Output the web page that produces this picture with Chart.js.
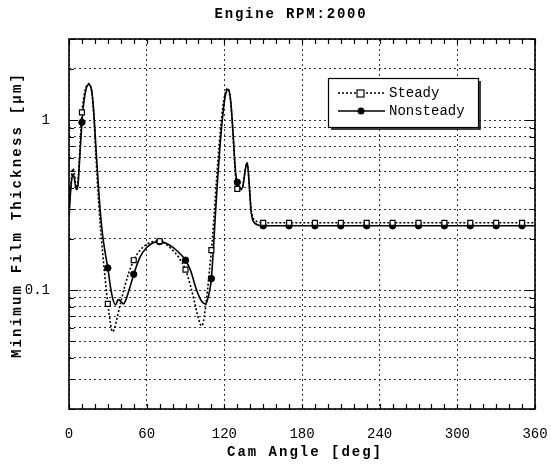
<!DOCTYPE html>
<html>
<head>
<meta charset="utf-8">
<script src="https://cdn.jsdelivr.net/npm/chart.js@4.4.0/dist/chart.umd.min.js"></script>
<style>
  html, body { margin: 0; padding: 0; background: #fff; }
  canvas { display: block; }
</style>
</head>
<body>
<canvas id="c" width="551" height="468"></canvas>
<script>
// Labels
const chartTitle = 'Engine RPM:2000';
const xTitle = 'Cam Angle [deg]';
const yTitle = 'Minimum Film Thickness [\u03bcm]';
const seriesNames = ['Steady', 'Nonsteady'];

// Axis ticks / grid values
const xTickValues = [0, 60, 120, 180, 240, 300, 360];
const yGridValues = [0.02, 0.03, 0.04, 0.05, 0.06, 0.07, 0.08, 0.09,
                     0.1, 0.2, 0.3, 0.4, 0.5, 0.6, 0.7, 0.8, 0.9, 1, 2, 3];
const yLabelled = [0.1, 1];
const markerAngles = [10, 30, 50, 70, 90, 110, 130, 150, 170, 190, 210, 230,
                      250, 270, 290, 310, 330, 350];

// Steady film thickness [um] vs cam angle [deg]
const steadyAngles = [0, 1, 2, 3, 4, 5, 6, 7, 8, 9, 10, 11, 12, 13, 14, 15.5, 17, 18, 19, 20,
  21, 22, 23, 24, 26, 28, 30, 32, 33.5, 35, 37, 40, 43, 46, 50, 55, 60, 65, 70, 75, 80, 85, 90,
  94, 97, 100, 102.5, 104, 105.5, 107, 108.5, 110, 111, 112, 113, 114, 115, 116, 117, 118, 119,
  120, 121, 122, 123, 124, 125, 126, 127, 128, 129, 130, 131, 132, 133, 134, 135, 136, 137,
  137.7, 138.5, 139.5, 140.5, 141.5, 143, 146, 150, 170, 190, 210, 230, 250, 270, 290, 310,
  330, 350, 360];
const steadyValues = [0.29, 0.38, 0.47, 0.52, 0.49, 0.43, 0.40, 0.44, 0.60, 0.83, 1.11, 1.30,
  1.45, 1.55, 1.61, 1.64, 1.55, 1.38, 1.10, 0.82, 0.58, 0.42, 0.32, 0.25, 0.165, 0.115, 0.083,
  0.064, 0.057, 0.059, 0.068, 0.085, 0.105, 0.125, 0.150, 0.172, 0.186, 0.193, 0.194, 0.186,
  0.172, 0.155, 0.132, 0.105, 0.085, 0.068, 0.0616, 0.066, 0.080, 0.100, 0.130, 0.172, 0.21,
  0.27, 0.35, 0.45, 0.57, 0.72, 0.88, 1.05, 1.22, 1.36, 1.47, 1.53, 1.52, 1.43, 1.25, 1.0,
  0.75, 0.55, 0.44, 0.394, 0.385, 0.385, 0.39, 0.40, 0.44, 0.50, 0.55, 0.56, 0.50, 0.39, 0.31,
  0.275, 0.26, 0.252, 0.249, 0.249, 0.249, 0.249, 0.249, 0.249, 0.249, 0.249, 0.249, 0.249,
  0.249, 0.249];

// Nonsteady film thickness [um] vs cam angle [deg]
const nonsteadyAngles = [0, 1, 2, 3, 4, 5, 6, 7, 8, 9, 10, 11, 12, 13, 14, 15.5, 17, 18, 19, 20,
  21, 22, 23, 24, 26, 28, 30, 32, 34, 36, 38, 40, 42, 44, 46, 48, 50, 55, 60, 65, 70, 75, 80, 85,
  90, 94, 98, 101, 103, 105.5, 107, 108.5, 110, 111, 112, 113, 114, 115, 116, 117, 118, 119,
  120, 121, 122, 123, 124, 125, 126, 127, 128, 129, 130, 131, 132, 133, 134, 135, 136, 137,
  137.7, 138.5, 139.5, 140.5, 141.5, 143, 146, 150, 170, 190, 210, 230, 250, 270, 290, 310,
  330, 350, 360];
const nonsteadyValues = [0.27, 0.36, 0.44, 0.48, 0.46, 0.41, 0.39, 0.42, 0.55, 0.74, 0.97, 1.18,
  1.36, 1.50, 1.59, 1.62, 1.55, 1.40, 1.15, 0.88, 0.65, 0.50, 0.38, 0.30, 0.21, 0.165, 0.135,
  0.105, 0.088, 0.082, 0.088, 0.086, 0.083, 0.088, 0.098, 0.110, 0.124, 0.157, 0.178, 0.190,
  0.193, 0.189, 0.179, 0.166, 0.150, 0.130, 0.103, 0.090, 0.085, 0.083, 0.088, 0.098, 0.117,
  0.15, 0.20, 0.27, 0.36, 0.47, 0.60, 0.76, 0.93, 1.10, 1.28, 1.42, 1.50, 1.52, 1.45, 1.28,
  1.02, 0.78, 0.58, 0.47, 0.431, 0.41, 0.40, 0.395, 0.40, 0.44, 0.50, 0.55, 0.56, 0.50, 0.39,
  0.30, 0.265, 0.25, 0.242, 0.239, 0.239, 0.239, 0.239, 0.239, 0.239, 0.239, 0.239, 0.239,
  0.239, 0.239, 0.239];

const toPoints = (xs, ys) => xs.map((x, i) => ({ x: x, y: ys[i] }));
const markerRadius = r => ctx => (ctx.raw && markerAngles.includes(ctx.raw.x)) ? r : 0;

const MONO = '"Liberation Mono", "Courier New", monospace';

// Frame, inward ticks, titles and legend box
const decorations = {
  id: 'decorations',
  beforeDraw(chart) {
    const ctx = chart.ctx;
    ctx.save();
    ctx.fillStyle = '#fff';
    ctx.fillRect(0, 0, chart.width, chart.height);
    ctx.restore();
  },
  afterDraw(chart) {
    const ctx = chart.ctx;
    const a = chart.chartArea;
    const xs = chart.scales.x, ys = chart.scales.y;
    ctx.save();
    ctx.strokeStyle = '#000';
    ctx.setLineDash([]);

    // inward ticks
    ctx.lineWidth = 1.2;
    ctx.beginPath();
    for (let v = 0; v <= 360; v += 10) {
      const px = Math.round(xs.getPixelForValue(v)) + 0.5;
      ctx.moveTo(px, a.bottom); ctx.lineTo(px, a.bottom - 5);
      ctx.moveTo(px, a.top); ctx.lineTo(px, a.top + 5);
    }
    yGridValues.forEach(v => {
      const py = Math.round(ys.getPixelForValue(v)) + 0.5;
      const len = yLabelled.includes(v) ? 9 : 5;
      ctx.moveTo(a.left, py); ctx.lineTo(a.left + len, py);
      ctx.moveTo(a.right, py); ctx.lineTo(a.right - len, py);
    });
    ctx.stroke();

    // frame
    ctx.lineWidth = 1.6;
    ctx.strokeRect(a.left, a.top, a.right - a.left, a.bottom - a.top);

    // titles
    ctx.fillStyle = '#000';
    ctx.textAlign = 'center';
    ctx.textBaseline = 'middle';
    ctx.font = 'bold 14px ' + MONO;
    ctx.letterSpacing = '1.8px';
    ctx.fillText(chartTitle, 291, 14);
    ctx.letterSpacing = '2px';
    ctx.fillText(xTitle, 305, 452);
    ctx.save();
    ctx.translate(17, 215);
    ctx.rotate(-Math.PI / 2);
    ctx.letterSpacing = '2.2px';
    ctx.fillText(yTitle, 0, 0);
    ctx.restore();
    ctx.letterSpacing = '0px';

    // legend box
    const bx = 328, by = 78, bw = 150, bh = 49;
    ctx.fillStyle = '#fff';
    ctx.fillRect(bx, by, bw, bh);
    ctx.lineWidth = 1.2;
    ctx.strokeRect(bx + 0.5, by + 0.5, bw, bh);
    ctx.lineWidth = 1.5;
    ctx.beginPath();
    ctx.moveTo(bx + bw + 2, by + 3); ctx.lineTo(bx + bw + 2, by + bh + 2);
    ctx.lineTo(bx + 3, by + bh + 2);
    ctx.stroke();

    const rows = [
      { y: 93, ds: chart.data.datasets[0] },
      { y: 111, ds: chart.data.datasets[1] }
    ];
    rows.forEach((r, i) => {
      ctx.lineWidth = 1.5;
      ctx.setLineDash(r.ds.borderDash || []);
      ctx.beginPath();
      ctx.moveTo(338, r.y); ctx.lineTo(385, r.y);
      ctx.stroke();
      ctx.setLineDash([]);
      if (i === 0) {
        ctx.fillStyle = '#fff';
        ctx.lineWidth = 1.2;
        ctx.fillRect(357, r.y - 3, 7, 7);
        ctx.strokeRect(357, r.y - 3, 7, 7);
      } else {
        ctx.fillStyle = '#000';
        ctx.beginPath();
        ctx.arc(361, r.y, 3.5, 0, Math.PI * 2);
        ctx.fill();
      }
      ctx.fillStyle = '#000';
      ctx.textAlign = 'left';
      ctx.font = '14px ' + MONO;
      ctx.fillText(seriesNames[i], 389, r.y);
    });
    ctx.restore();
  }
};

new Chart(document.getElementById('c'), {
  type: 'line',
  data: {
    datasets: [
      {
        label: seriesNames[0],
        data: toPoints(steadyAngles, steadyValues),
        borderColor: '#000',
        borderWidth: 1.6,
        borderDash: [2, 2],
        cubicInterpolationMode: 'monotone',
        pointStyle: 'rect',
        pointRadius: markerRadius(3.5),
        pointBackgroundColor: '#fff',
        pointBorderColor: '#000',
        pointBorderWidth: 1.2,
        fill: false
      },
      {
        label: seriesNames[1],
        data: toPoints(nonsteadyAngles, nonsteadyValues),
        borderColor: '#000',
        borderWidth: 1.6,
        cubicInterpolationMode: 'monotone',
        pointStyle: 'circle',
        pointRadius: markerRadius(3.2),
        pointBackgroundColor: '#000',
        pointBorderColor: '#000',
        pointBorderWidth: 1,
        fill: false
      }
    ]
  },
  options: {
    responsive: false,
    animation: false,
    devicePixelRatio: 1,
    events: [],
    layout: { padding: { top: 39, right: 16, left: 0, bottom: 0 } },
    plugins: {
      legend: { display: false },
      title: { display: false },
      tooltip: { enabled: false }
    },
    scales: {
      x: {
        type: 'linear',
        min: 0,
        max: 360,
        afterFit: s => { s.height = 59; s.paddingLeft = 0; s.paddingRight = 0; },
        afterBuildTicks: s => { s.ticks = xTickValues.map(v => ({ value: v })); },
        ticks: {
          autoSkip: false,
          maxRotation: 0,
          padding: 17,
          color: '#000',
          font: { family: MONO, size: 14 },
          callback: v => String(v)
        },
        grid: { color: '#333', lineWidth: 1, drawTicks: false },
        border: { display: false, dash: [2, 3] }
      },
      y: {
        type: 'logarithmic',
        min: 0.02,
        max: 3,
        afterFit: s => { s.width = 69; s.paddingTop = 0; s.paddingBottom = 0; },
        afterBuildTicks: s => { s.ticks = yGridValues.map(v => ({ value: v })); },
        ticks: {
          autoSkip: false,
          padding: 19,
          color: '#000',
          font: { family: MONO, size: 14 },
          callback: v => (v === 1 ? '1' : (Math.abs(v - 0.1) < 1e-9 ? '0.1' : ''))
        },
        grid: { color: '#333', lineWidth: 1, drawTicks: false },
        border: { display: false, dash: [2, 3] }
      }
    }
  },
  plugins: [decorations]
});
</script>
</body>
</html>
